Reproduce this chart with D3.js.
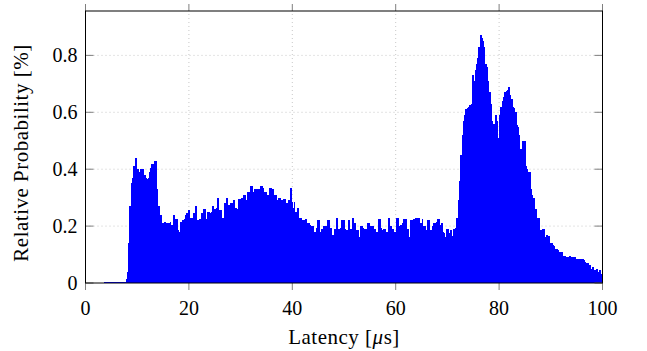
<!DOCTYPE html>
<html>
<head>
<meta charset="utf-8">
<script src="https://cdn.jsdelivr.net/npm/d3@7"></script>
<style>
  body { margin: 0; background: #fff; }
  text { font-family: "Liberation Serif", "DejaVu Serif", serif; fill: #000; }
</style>
</head>
<body>
<svg id="chart" width="647" height="351"></svg>
<script>
// histogram: bins of 0.25 us starting at 3 us, one row per microsecond
const binStart = 3;
const binWidth = 0.25;
const prob = [
  0, 0, 0.004, 0.004,            // 3
  0.004, 0.004, 0.004, 0.004,    // 4
  0.004, 0.004, 0.004, 0.004,    // 5
  0.004, 0.004, 0.004, 0.004,    // 6
  0.004, 0.004, 0.004, 0.015,    // 7
  0.04, 0.14, 0.27, 0.35,        // 8
  0.37, 0.41, 0.44, 0.40,        // 9
  0.40, 0.39, 0.40, 0.38,        // 10
  0.40, 0.38, 0.37, 0.365,       // 11
  0.37, 0.39, 0.405, 0.42,       // 12
  0.42, 0.43, 0.43, 0.33,        // 13
  0.27, 0.24, 0.24, 0.21,        // 14
  0.21, 0.215, 0.21, 0.21,       // 15
  0.21, 0.215, 0.205, 0.205,     // 16
  0.24, 0.225, 0.225, 0.186,     // 17
  0.18, 0.215, 0.215, 0.22,      // 18
  0.225, 0.24, 0.245, 0.256,     // 19
  0.22, 0.23, 0.23, 0.245,       // 20
  0.245, 0.27, 0.22, 0.22,       // 21
  0.225, 0.245, 0.245, 0.26,     // 22
  0.26, 0.225, 0.25, 0.25,       // 23
  0.245, 0.25, 0.27, 0.26,       // 24
  0.26, 0.263, 0.30, 0.256,      // 25
  0.256, 0.23, 0.23, 0.28,       // 26
  0.28, 0.30, 0.275, 0.275,      // 27
  0.28, 0.28, 0.29, 0.265,       // 28
  0.265, 0.26, 0.295, 0.295,     // 29
  0.30, 0.30, 0.31, 0.31,        // 30
  0.29, 0.32, 0.32, 0.34,        // 31
  0.34, 0.32, 0.33, 0.33,        // 32
  0.33, 0.33, 0.33, 0.34,        // 33
  0.34, 0.335, 0.32, 0.32,       // 34
  0.31, 0.31, 0.335, 0.335,      // 35
  0.33, 0.31, 0.31, 0.31,        // 36
  0.29, 0.30, 0.30, 0.29,        // 37
  0.285, 0.295, 0.295, 0.28,     // 38
  0.28, 0.29, 0.335, 0.285,      // 39
  0.265, 0.285, 0.25, 0.25,      // 40
  0.265, 0.23, 0.23, 0.22,       // 41
  0.22, 0.21, 0.225, 0.21,       // 42
  0.21, 0.205, 0.20, 0.20,       // 43
  0.18, 0.18, 0.195, 0.22,       // 44
  0.22, 0.18, 0.19, 0.19,        // 45
  0.20, 0.20, 0.185, 0.22,       // 46
  0.22, 0.195, 0.17, 0.17,       // 47
  0.19, 0.19, 0.23, 0.19,        // 48
  0.19, 0.195, 0.22, 0.22,       // 49
  0.19, 0.185, 0.185, 0.22,      // 50
  0.19, 0.19, 0.23, 0.21,        // 51
  0.21, 0.185, 0.185, 0.16,      // 52
  0.20, 0.20, 0.195, 0.19,       // 53
  0.19, 0.19, 0.21, 0.21,        // 54
  0.20, 0.20, 0.20, 0.19,        // 55
  0.18, 0.18, 0.225, 0.225,      // 56
  0.195, 0.185, 0.19, 0.19,      // 57
  0.18, 0.18, 0.23, 0.20,        // 58
  0.20, 0.19, 0.18, 0.18,        // 59
  0.23, 0.23, 0.20, 0.205,       // 60
  0.205, 0.21, 0.225, 0.225,     // 61
  0.19, 0.19, 0.16, 0.22,        // 62
  0.22, 0.225, 0.225, 0.23,      // 63
  0.23, 0.23, 0.21, 0.21,        // 64
  0.225, 0.20, 0.20, 0.185,      // 65
  0.22, 0.22, 0.185, 0.185,      // 66
  0.20, 0.21, 0.21, 0.215,       // 67
  0.225, 0.225, 0.205, 0.21,     // 68
  0.18, 0.175, 0.16, 0.19,       // 69
  0.19, 0.175, 0.185, 0.165,     // 70
  0.19, 0.19, 0.195, 0.23,       // 71
  0.29, 0.36, 0.45, 0.52,        // 72
  0.57, 0.59, 0.61, 0.615,       // 73
  0.62, 0.625, 0.63, 0.73,       // 74
  0.71, 0.75, 0.77, 0.79,        // 75
  0.83, 0.87, 0.86, 0.85,        // 76
  0.83, 0.77, 0.76, 0.71,        // 77
  0.67, 0.63, 0.57, 0.56,        // 78
  0.49, 0.59, 0.57, 0.51,        // 79
  0.59, 0.62, 0.64, 0.655,       // 80
  0.67, 0.675, 0.68, 0.69,       // 81
  0.66, 0.645, 0.62, 0.615,      // 82
  0.60, 0.555, 0.55, 0.52,       // 83
  0.47, 0.44, 0.50, 0.50,        // 84
  0.41, 0.40, 0.39, 0.39,        // 85
  0.33, 0.31, 0.30, 0.26,        // 86
  0.26, 0.23, 0.23, 0.18,        // 87
  0.185, 0.19, 0.19, 0.16,       // 88
  0.17, 0.165, 0.165, 0.14,      // 89
  0.14, 0.135, 0.13, 0.12,       // 90
  0.12, 0.115, 0.11, 0.11,       // 91
  0.11, 0.095, 0.095, 0.09,      // 92
  0.09, 0.09, 0.095, 0.09,       // 93
  0.09, 0.09, 0.09, 0.086,       // 94
  0.086, 0.086, 0.086, 0.086,    // 95
  0.086, 0.08, 0.075, 0.07,      // 96
  0.07, 0.065, 0.065, 0.05,      // 97
  0.055, 0.045, 0.045, 0.05,     // 98
  0.04, 0.045, 0.03, 0.03        // 99
];
const xTicks = [0, 20, 40, 60, 80, 100];
const yTicks = [0, 0.2, 0.4, 0.6, 0.8];

var svg = d3.select("#chart"),
  margin = { top: 11, right: 44.5, bottom: 68, left: 85.5 },
  width = +svg.attr("width") - margin.left - margin.right,
  height = +svg.attr("height") - margin.top - margin.bottom;

var x = d3.scaleLinear().domain([0, 100]).range([margin.left, margin.left + width]);
var y = d3.scaleLinear().domain([0, 0.956]).range([margin.top + height, margin.top]);

// dotted grid
svg.append("g")
  .selectAll("line")
  .data(xTicks.slice(1, -1))
  .join("line")
  .attr("x1", d => x(d)).attr("x2", d => x(d))
  .attr("y1", y(0)).attr("y2", margin.top)
  .attr("stroke", "#c8c8c8")
  .attr("stroke-dasharray", "1,3");
svg.append("g")
  .selectAll("line")
  .data(yTicks.slice(1))
  .join("line")
  .attr("x1", x(0)).attr("x2", x(100))
  .attr("y1", d => y(d)).attr("y2", d => y(d))
  .attr("stroke", "#c8c8c8")
  .attr("stroke-dasharray", "1,3");

// bars
svg.append("g")
  .attr("shape-rendering", "crispEdges")
  .selectAll("rect")
  .data(prob)
  .join("rect")
  .attr("x", (d, i) => x(binStart + i * binWidth))
  .attr("width", (d, i) => x(binStart + (i + 1) * binWidth) - x(binStart + i * binWidth) + 0.6)
  .attr("y", d => y(d))
  .attr("height", d => y(0) - y(d))
  .attr("fill", "#0000ff");

// ticks
var tickColor = "#7f7f7f";
var tk = svg.append("g").attr("stroke", tickColor).attr("stroke-width", 1);
xTicks.forEach(function(t) {
  tk.append("line").attr("x1", x(t)).attr("x2", x(t)).attr("y1", y(0)).attr("y2", y(0) + 7);
  tk.append("line").attr("x1", x(t)).attr("x2", x(t)).attr("y1", margin.top).attr("y2", margin.top - 7);
});
yTicks.forEach(function(t) {
  tk.append("line").attr("x1", x(0)).attr("x2", x(0) + 8).attr("y1", y(t)).attr("y2", y(t));
  tk.append("line").attr("x1", x(100)).attr("x2", x(100) - 8).attr("y1", y(t)).attr("y2", y(t));
});

// frame
svg.append("rect")
  .attr("x", x(0)).attr("y", margin.top)
  .attr("width", width).attr("height", height)
  .attr("fill", "none")
  .attr("stroke", "#000")
  .attr("stroke-width", 1);

// tick labels
svg.append("g")
  .selectAll("text")
  .data(xTicks)
  .join("text")
  .attr("x", d => x(d))
  .attr("y", y(0) + 32)
  .attr("text-anchor", "middle")
  .style("font-size", "20px")
  .text(d => d);
svg.append("g")
  .selectAll("text")
  .data(yTicks)
  .join("text")
  .attr("x", x(0) - 8)
  .attr("y", d => y(d))
  .attr("dy", "0.35em")
  .attr("text-anchor", "end")
  .style("font-size", "20px")
  .text(d => d === 0 ? "0" : d3.format(".1f")(d));

// axis labels
var xl = svg.append("text")
  .attr("x", x(50))
  .attr("y", 344)
  .attr("text-anchor", "middle")
  .style("font-size", "21px")
  .style("letter-spacing", "0.5px");
xl.append("tspan").text("Latency [");
xl.append("tspan").style("font-style", "italic").text("\u03bc");
xl.append("tspan").text("s]");

svg.append("text")
  .attr("transform", "translate(28," + (margin.top + height / 2 + 6) + ") rotate(-90)")
  .attr("text-anchor", "middle")
  .style("font-size", "21px")
  .style("letter-spacing", "0.5px")
  .text("Relative Probability [%]");
</script>
</body>
</html>
